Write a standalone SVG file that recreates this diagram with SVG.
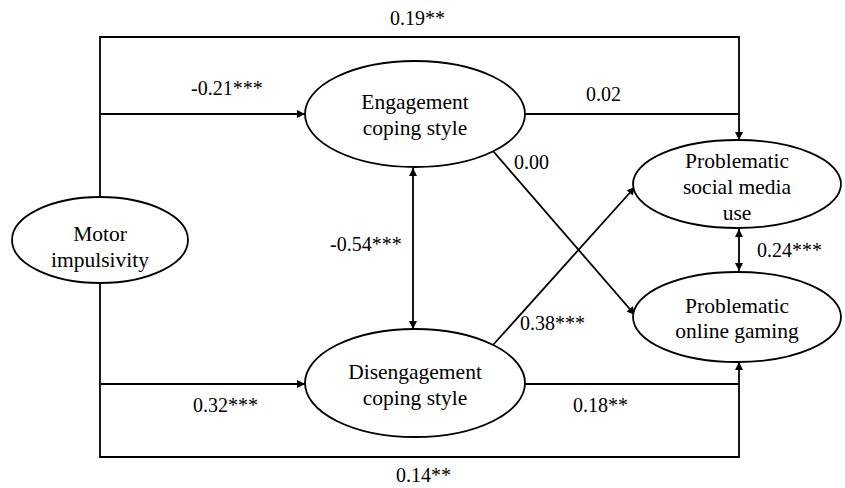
<svg xmlns="http://www.w3.org/2000/svg" width="845" height="488" viewBox="0 0 845 488">
<style>
.node ellipse{fill:#fff;stroke:#000;stroke-width:1.8}
.nt{font-family:'Liberation Serif','Times New Roman',Times,'DejaVu Serif',serif;font-size:21.5px;fill:#000;text-anchor:middle}
.lb{font-family:'Liberation Serif','Times New Roman',Times,'DejaVu Serif',serif;font-size:20px;fill:#000}
#connectors path{fill:none;stroke:#000;stroke-width:1.8}
</style>
<defs>
<marker id="ah" viewBox="0 0 10 10" refX="10" refY="5" markerWidth="9" markerHeight="8" markerUnits="userSpaceOnUse" orient="auto-start-reverse">
<path d="M0,0 L10,5 L0,10 Z" fill="#000"/>
</marker>
</defs>
<g id="connectors">
<path d="M100,197 V37 H739 V140" marker-end="url(#ah)"/>
<path d="M100,114 H305" marker-end="url(#ah)"/>
<path d="M525,114 H739"/>
<path d="M100,283 V457 H739 V362" marker-end="url(#ah)"/>
<path d="M100,384 H305" marker-end="url(#ah)"/>
<path d="M525,384 H739"/>
<path d="M413,168 V329" marker-start="url(#ah)" marker-end="url(#ah)"/>
<path d="M739,229 V271" marker-start="url(#ah)" marker-end="url(#ah)"/>
<path d="M493,151 L635,315" marker-end="url(#ah)"/>
<path d="M493,345 L635,187" marker-end="url(#ah)"/>
</g>
<g id="motor" class="node"><ellipse cx="100" cy="240" rx="88" ry="43"/><text class="nt" x="100" y="241">Motor</text><text class="nt" x="100" y="267">impulsivity</text></g>
<g id="engagement" class="node"><ellipse cx="415" cy="114" rx="110" ry="53"/><text class="nt" x="415" y="109">Engagement</text><text class="nt" x="415" y="135">coping style</text></g>
<g id="disengagement" class="node"><ellipse cx="415" cy="383" rx="110" ry="54"/><text class="nt" x="415" y="379">Disengagement</text><text class="nt" x="415" y="405">coping style</text></g>
<g id="smu" class="node"><ellipse cx="737" cy="184" rx="104" ry="44"/><text class="nt" x="737" y="168">Problematic</text><text class="nt" x="737" y="194">social media</text><text class="nt" x="737" y="220">use</text></g>
<g id="gaming" class="node"><ellipse cx="737" cy="317" rx="104" ry="45"/><text class="nt" x="737" y="313">Problematic</text><text class="nt" x="737" y="338">online gaming</text></g>
<g id="labels">
<text class="lb" x="390" y="25">0.19**</text>
<text class="lb" x="191" y="95">-0.21***</text>
<text class="lb" x="586" y="101">0.02</text>
<text class="lb" x="514" y="169">0.00</text>
<text class="lb" x="330" y="251">-0.54***</text>
<text class="lb" x="757" y="257">0.24***</text>
<text class="lb" x="520" y="330">0.38***</text>
<text class="lb" x="193" y="412">0.32***</text>
<text class="lb" x="573" y="412">0.18**</text>
<text class="lb" x="396" y="482">0.14**</text>
</g>
</svg>
